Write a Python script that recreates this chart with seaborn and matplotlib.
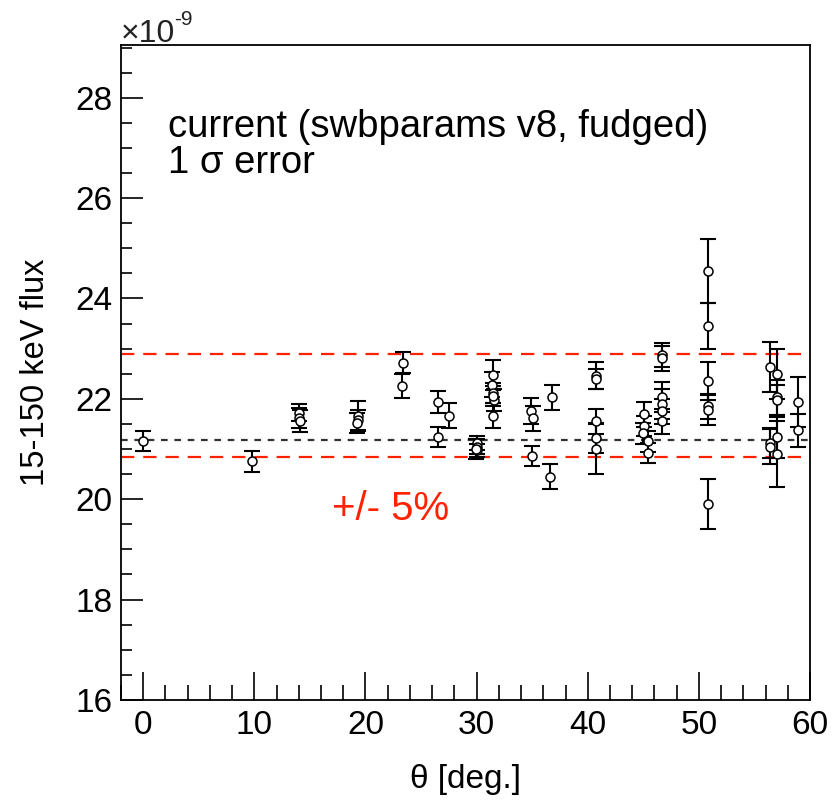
"""
Flux vs. off-axis angle, with mean and +/- 5% band
"""

import numpy as np
import pandas as pd
import matplotlib
matplotlib.use("Agg")
import matplotlib.pyplot as plt
import seaborn as sns
from matplotlib.ticker import MultipleLocator

# data (flux in units of 1e-9)
theta = [0.0, 9.8,
         14.0, 14.05, 14.1,
         19.3, 19.3, 19.25,
         23.35, 23.25,
         26.55, 26.55, 27.55,
         30.0, 30.0, 30.0, 29.95,
         31.5, 31.35, 31.5, 31.55, 31.5, 31.5,
         34.85, 35.1, 34.95,
         36.75, 36.6,
         40.7, 40.7, 40.7, 40.7, 40.7,
         45.05, 45.05, 44.95, 45.4, 45.4,
         46.65, 46.65, 46.65, 46.65, 46.65, 46.65,
         50.8, 50.8, 50.8, 50.8, 50.8, 50.8,
         56.4, 56.4, 56.4,
         57.05, 57.05, 57.05, 57.05, 57.05,
         58.95, 58.95]
flux = [21.16, 20.76,
        21.72, 21.62, 21.55,
        21.66, 21.58, 21.52,
        22.72, 22.26,
        21.93, 21.24, 21.66,
        21.12, 21.05, 20.98, 21.00,
        22.48, 22.28, 22.11, 21.98, 22.05, 21.66,
        21.76, 21.61, 20.86,
        22.03, 20.45,
        22.46, 22.40, 21.55, 21.22, 21.00,
        21.69, 21.46, 21.31, 21.15, 20.93,
        22.88, 22.81, 22.03, 21.89, 21.75, 21.55,
        24.55, 23.45, 22.36, 21.85, 21.78, 19.90,
        22.64, 21.12, 21.05,
        22.50, 22.03, 21.98, 21.23, 20.90,
        21.93, 21.37]
flux_err = [0.19, 0.21,
            0.17, 0.20, 0.22,
            0.30, 0.20, 0.20,
            0.21, 0.24,
            0.22, 0.20, 0.25,
            0.14, 0.15, 0.13, 0.20,
            0.30, 0.25, 0.20, 0.22, 0.20, 0.25,
            0.26, 0.25, 0.20,
            0.25, 0.25,
            0.27, 0.20, 0.25, 0.30, 0.50,
            0.25, 0.20, 0.20, 0.20, 0.20,
            0.24, 0.25, 0.30, 0.30, 0.25, 0.25,
            0.64, 0.45, 0.38, 0.25, 0.30, 0.50,
            0.50, 0.30, 0.35,
            0.50, 0.35, 0.30, 0.40, 0.65,
            0.50, 0.33]

mean_flux = 21.17
band_hi = 22.90
band_lo = 20.85

df = pd.DataFrame({"theta": theta, "flux": flux, "err": flux_err})

sns.set_style("white")
plt.rcParams["font.family"] = ["Liberation Sans", "DejaVu Sans"]
plt.rcParams["text.color"] = "black"
plt.rcParams["axes.labelcolor"] = "black"
plt.rcParams["xtick.color"] = "black"
plt.rcParams["ytick.color"] = "black"

fig = plt.figure(figsize=(8.37, 8.08), dpi=100)
ax = fig.add_axes([0.1446, 0.1337, 0.8231, 0.8106])

# reference lines
ax.axhline(mean_flux, color="#333333", ls=(0, (3, 3)), lw=1.6, zorder=1)
ax.axhline(band_hi, color="#ff2200", ls=(0, (6, 4)), lw=1.6, zorder=1)
ax.axhline(band_lo, color="#ff2200", ls=(0, (6, 4)), lw=1.6, zorder=1)

# error bars + open circle markers
ax.errorbar(df["theta"], df["flux"], yerr=df["err"], fmt="none",
            ecolor="black", elinewidth=1.5, capsize=6, capthick=1.5, zorder=2)
sns.scatterplot(data=df, x="theta", y="flux", ax=ax, marker="o", s=42,
                facecolor="white", edgecolor="black", linewidth=1.1, zorder=3)

ax.set_xlim(-2, 60)
ax.set_ylim(16, 29.05)
ax.xaxis.set_major_locator(MultipleLocator(10))
ax.xaxis.set_minor_locator(MultipleLocator(2))
ax.yaxis.set_major_locator(MultipleLocator(2))
ax.yaxis.set_minor_locator(MultipleLocator(0.5))
ax.tick_params(bottom=True, left=True, top=False, right=False, which="both")
ax.tick_params(axis="x", which="major", direction="in", length=20, width=1.2,
               labelsize=24, pad=7)
ax.tick_params(axis="x", which="minor", direction="in", length=11, width=1.2)
ax.tick_params(axis="y", which="major", direction="in", length=16, width=1.2,
               labelsize=24, pad=6)
ax.tick_params(axis="y", which="minor", direction="in", length=8, width=1.2)
for sp in ax.spines.values():
    sp.set_linewidth(1.3)
    sp.set_color("black")

ax.set_xlabel("θ [deg.]", fontsize=24, labelpad=17)
ax.set_ylabel("15-150 keV flux", fontsize=23.5, labelpad=18)

# exponent label
fig.text(0.144, 0.948, "×10", fontsize=23, color="#222222", va="baseline", ha="left")
fig.text(0.208, 0.969, "-9", fontsize=15, color="#222222", va="baseline", ha="left")

# annotations
ax.text(2.2, 27.42, "current (swbparams v8, fudged)", fontsize=27.5, va="center")
ax.text(2.2, 26.7, "1 σ error", fontsize=27.5, va="center")
ax.text(17.0, 19.8, "+/- 5%", fontsize=29, color="#ff2200", va="center")

plt.savefig("out.png", dpi=100)
plt.close()
